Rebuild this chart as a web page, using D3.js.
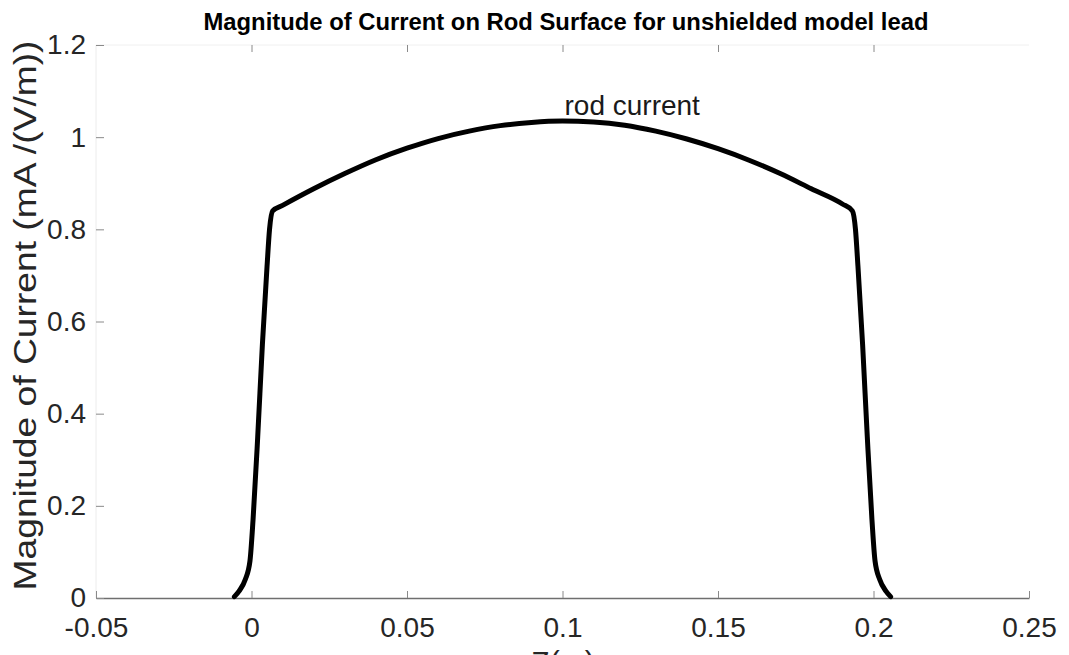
<!DOCTYPE html>
<html>
<head>
<meta charset="utf-8">
<script src="https://cdn.jsdelivr.net/npm/d3@7"></script>
<style>
  body { margin: 0; background: #fff; }
  svg { font-family: "Liberation Sans", Arial, Helvetica, sans-serif; }
</style>
</head>
<body>
<script>
// position along rod (m) and current magnitude (mA/(V/m))
const zPos = [-0.0055, -0.004, -0.002, -0.0005, 0.0005, 0.002, 0.0035, 0.005, 0.0058, 0.0068,
  0.01, 0.02, 0.03, 0.04, 0.05, 0.06, 0.07, 0.08, 0.09, 0.10,
  0.11, 0.12, 0.13, 0.14, 0.15, 0.16, 0.17, 0.18, 0.19, 0.1932,
  0.1942, 0.195, 0.1965, 0.198, 0.1995, 0.2005, 0.202, 0.204, 0.2055]
const rodCurrent = [0.003, 0.015, 0.04, 0.08, 0.17, 0.35, 0.55, 0.72, 0.80, 0.84,
  0.852, 0.888, 0.921, 0.951, 0.976, 0.997, 1.013, 1.025, 1.032, 1.035,
  1.033, 1.026, 1.013, 0.996, 0.975, 0.950, 0.921, 0.888, 0.855, 0.84,
  0.80, 0.72, 0.55, 0.35, 0.17, 0.08, 0.04, 0.015, 0.003]

const xTicks = [-0.05, 0, 0.05, 0.1, 0.15, 0.2, 0.25]
const yTicks = [0, 0.2, 0.4, 0.6, 0.8, 1, 1.2]

const titleText = "Magnitude of Current on Rod Surface for unshielded model lead"
const yLabel = "Magnitude of Current (mA /(V/m))"
const xLabel = "Z(m)"
const curveLabel = "rod current"

const svgWidth = 1069
const svgHeight = 655

const svg = d3.select("body").append("svg")
  .attr("width", svgWidth)
  .attr("height", svgHeight)

const x = d3.scaleLinear().domain([-0.05, 0.25]).range([96, 1029])
const y = d3.scaleLinear().domain([0, 1.2]).range([598, 45])

const fmt = d => String(d)

// faint left/top box lines
svg.append("line")
  .attr("x1", x(-0.05)).attr("x2", x(-0.05))
  .attr("y1", y(1.2)).attr("y2", y(0))
  .attr("stroke", "#ececec").attr("stroke-width", 1)
svg.append("line")
  .attr("x1", x(-0.05)).attr("x2", x(0.25))
  .attr("y1", y(1.2)).attr("y2", y(1.2))
  .attr("stroke", "#f0f0f0").attr("stroke-width", 1)

// bottom axis, ticks pointing inward
const xAxisG = svg.append("g")
  .attr("transform", `translate(0, ${y(0)})`)
  .call(d3.axisBottom(x).tickValues(xTicks).tickFormat(fmt).tickSizeInner(-7).tickSizeOuter(0))
xAxisG.select(".domain").attr("stroke", "#6f6f6f").attr("stroke-width", 1.5)
xAxisG.selectAll(".tick line").attr("stroke", "#8a8a8a")
xAxisG.selectAll(".tick text")
  .attr("fill", "#262626")
  .attr("font-size", 28)
  .attr("y", 19)
  .attr("dy", "0.71em")

// top ticks only
const topG = svg.append("g")
  .attr("transform", `translate(0, ${y(1.2)})`)
  .call(d3.axisTop(x).tickValues(xTicks.slice(1, -1)).tickFormat("").tickSizeInner(-7).tickSizeOuter(0))
topG.select(".domain").remove()
topG.selectAll(".tick line").attr("stroke", "#8a8a8a")

// left axis
const yAxisG = svg.append("g")
  .attr("transform", `translate(${x(-0.05)}, 0)`)
  .call(d3.axisLeft(y).tickValues(yTicks).tickFormat(fmt).tickSizeInner(-8).tickSizeOuter(0))
yAxisG.select(".domain").remove()
yAxisG.selectAll(".tick line").attr("stroke", "#8a8a8a")
yAxisG.selectAll(".tick text")
  .attr("fill", "#262626")
  .attr("font-size", 28)
  .attr("x", -10)

// the curve
const line = d3.line()
  .x((d, i) => x(zPos[i]))
  .y(d => y(d))
  .curve(d3.curveMonotoneX)

svg.append("path")
  .attr("d", line(rodCurrent))
  .attr("fill", "none")
  .attr("stroke", "#000")
  .attr("stroke-width", 5)
  .attr("stroke-linejoin", "round")
  .attr("stroke-linecap", "round")

svg.append("text")
  .attr("x", x(0.1) + 2)
  .attr("y", y(1.048))
  .attr("font-size", 28)
  .attr("fill", "#1a1a1a")
  .text(curveLabel)

// title
svg.append("text")
  .attr("x", 566)
  .attr("y", 30)
  .attr("text-anchor", "middle")
  .attr("font-size", 23)
  .attr("font-weight", "bold")
  .attr("textLength", 725)
  .attr("lengthAdjust", "spacingAndGlyphs")
  .attr("fill", "#000")
  .text(titleText)

// axis labels
svg.append("text")
  .attr("transform", `translate(36, ${(y(0) + y(1.2)) / 2 - 6}) rotate(-90)`)
  .attr("text-anchor", "middle")
  .attr("font-size", 31)
  .attr("textLength", 550)
  .attr("lengthAdjust", "spacingAndGlyphs")
  .attr("fill", "#262626")
  .text(yLabel)

svg.append("text")
  .attr("x", 563)
  .attr("y", 672)
  .attr("text-anchor", "middle")
  .attr("font-size", 30)
  .attr("fill", "#262626")
  .text(xLabel)
</script>
</body>
</html>
